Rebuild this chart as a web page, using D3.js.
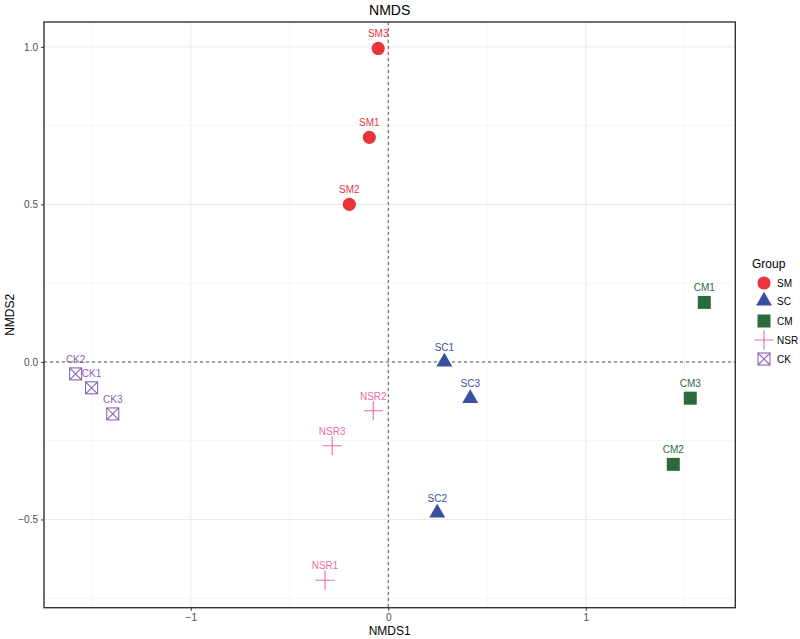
<!DOCTYPE html>
<html><head><meta charset="utf-8">
<script src="https://cdn.jsdelivr.net/npm/d3@7"></script>
<style>body{margin:0;background:#fff}svg{display:block;font-family:"Liberation Sans",Arial,sans-serif}</style>
</head><body><svg id="c" width="800" height="639"></svg>
<script>
const samples = ["SM3","SM1","SM2","SC1","SC3","SC2","CM1","CM3","CM2","NSR2","NSR3","NSR1","CK2","CK1","CK3"];
const groupOf = ["SM","SM","SM","SC","SC","SC","CM","CM","CM","NSR","NSR","NSR","CK","CK","CK"];
const nmds1 = [-0.051,-0.096,-0.197,0.284,0.415,0.248,1.600,1.529,1.443,-0.076,-0.284,-0.320,-1.583,-1.502,-1.395];
const nmds2 = [0.995,0.713,0.500,0.000,-0.116,-0.479,0.189,-0.115,-0.325,-0.155,-0.266,-0.693,-0.038,-0.082,-0.165];
const groups = ["SM","SC","CM","NSR","CK"];
const colors = ["#E8353B","#3A4FA0","#2B6A3D","#EE6AA7","#8A62B5"];
const xTicks = [-1,0,1];
const yTicks = [-0.5,0.0,0.5,1.0];
const xMinor = [-1.5,-0.5,0.5,1.5];
const yMinor = [-0.75,-0.25,0.25,0.75];

const svg = d3.select("#c");
const L=44, R=735.3, T=22, B=607.7;
const x = d3.scaleLinear().domain([-1.743,1.757]).range([L,R]);
const y = d3.scaleLinear().domain([-0.78,1.079]).range([B,T]);
const col = d3.scaleOrdinal().domain(groups).range(colors);

// grid
const g = svg.append("g");
g.selectAll(".xm").data(xMinor).join("line").attr("x1",d=>x(d)).attr("x2",d=>x(d)).attr("y1",T).attr("y2",B).attr("stroke","#F0F0F0").attr("stroke-width",0.6);
g.selectAll(".ym").data(yMinor).join("line").attr("y1",d=>y(d)).attr("y2",d=>y(d)).attr("x1",L).attr("x2",R).attr("stroke","#F0F0F0").attr("stroke-width",0.6);
g.selectAll(".xM").data(xTicks).join("line").attr("x1",d=>x(d)).attr("x2",d=>x(d)).attr("y1",T).attr("y2",B).attr("stroke","#EBEBEB").attr("stroke-width",1.1);
g.selectAll(".yM").data(yTicks).join("line").attr("y1",d=>y(d)).attr("y2",d=>y(d)).attr("x1",L).attr("x2",R).attr("stroke","#EBEBEB").attr("stroke-width",1.1);

// dashed zero lines
svg.append("line").attr("x1",x(0)).attr("x2",x(0)).attr("y1",T).attr("y2",B).attr("stroke","#555").attr("stroke-width",1).attr("stroke-dasharray","3,3");
svg.append("line").attr("y1",y(0)).attr("y2",y(0)).attr("x1",L).attr("x2",R).attr("stroke","#555").attr("stroke-width",1).attr("stroke-dasharray","3,3");

// shapes
function drawShape(sel, grp, c){
  if(grp==="SM"){ sel.append("circle").attr("r",6.6).attr("fill",c); }
  else if(grp==="SC"){ const r=9.2, xc=r*Math.sqrt(3)/2; sel.append("path").attr("d",`M0,${-r}L${xc},${r/2}L${-xc},${r/2}Z`).attr("fill",c); }
  else if(grp==="CM"){ sel.append("rect").attr("x",-6.5).attr("y",-6.5).attr("width",13).attr("height",13).attr("fill",c); }
  else if(grp==="NSR"){ sel.append("path").attr("d","M-9.5,0H9.5M0,-9.5V9.5").attr("stroke",c).attr("stroke-width",1.1).attr("fill","none"); }
  else { sel.append("rect").attr("x",-6).attr("y",-6).attr("width",12).attr("height",12).attr("fill","none").attr("stroke",c).attr("stroke-width",1.1);
         sel.append("path").attr("d","M-6,-6L6,6M6,-6L-6,6").attr("stroke",c).attr("stroke-width",1.1); }
}
const data = samples.map((s,i)=>({s,g:groupOf[i],x:nmds1[i],y:nmds2[i]}));
const pts = svg.append("g").selectAll("g").data(data).join("g").attr("transform",d=>`translate(${x(d.x)},${y(d.y)})`);
pts.each(function(d){ drawShape(d3.select(this), d.g, col(d.g)); });
svg.append("g").selectAll("text").data(data).join("text")
  .attr("x",d=>x(d.x)).attr("y",d=>y(d.y)-11).attr("text-anchor","middle")
  .attr("font-size",10).attr("fill",d=>col(d.g)).text(d=>d.s);

// border
svg.append("rect").attr("x",L).attr("y",T).attr("width",R-L).attr("height",B-T).attr("fill","none").attr("stroke","#333").attr("stroke-width",1.4);

// axes
const xa = svg.append("g").attr("transform",`translate(0,${B})`).call(d3.axisBottom(x).tickValues(xTicks).tickFormat(d3.format("d")).tickSize(3).tickPadding(3));
const ya = svg.append("g").attr("transform",`translate(${L},0)`).call(d3.axisLeft(y).tickValues(yTicks).tickFormat(d3.format(".1f")).tickSize(3).tickPadding(3));
[xa,ya].forEach(a=>{a.select(".domain").remove();a.selectAll(".tick line").attr("stroke","#333");a.selectAll(".tick text").attr("fill","#4D4D4D").attr("font-size",10).attr("font-family","Liberation Sans, Arial, sans-serif");});
ya.selectAll(".tick text").text(d=>d<0?"\u2212"+Math.abs(d).toFixed(1):d.toFixed(1));
xa.selectAll(".tick text").text(d=>d<0?"\u2212"+Math.abs(d):d);

svg.append("text").attr("x",(L+R)/2).attr("y",635).attr("text-anchor","middle").attr("font-size",12).text("NMDS1");
svg.append("text").attr("transform",`translate(14,${(T+B)/2}) rotate(-90)`).attr("text-anchor","middle").attr("font-size",12).text("NMDS2");
svg.append("text").attr("x",(L+R)/2).attr("y",15).attr("text-anchor","middle").attr("font-size",14).text("NMDS");

// legend
const lg = svg.append("g");
lg.append("text").attr("x",752).attr("y",268).attr("font-size",12).text("Group");
const ly = [283,301,321,340,359];
groups.forEach((gname,i)=>{
  const k = lg.append("g").attr("transform",`translate(764,${ly[i]})`);
  drawShape(k,gname,col(gname));
  lg.append("text").attr("x",777).attr("y",ly[i]+3.5).attr("font-size",10).text(gname);
});
</script></body></html>
